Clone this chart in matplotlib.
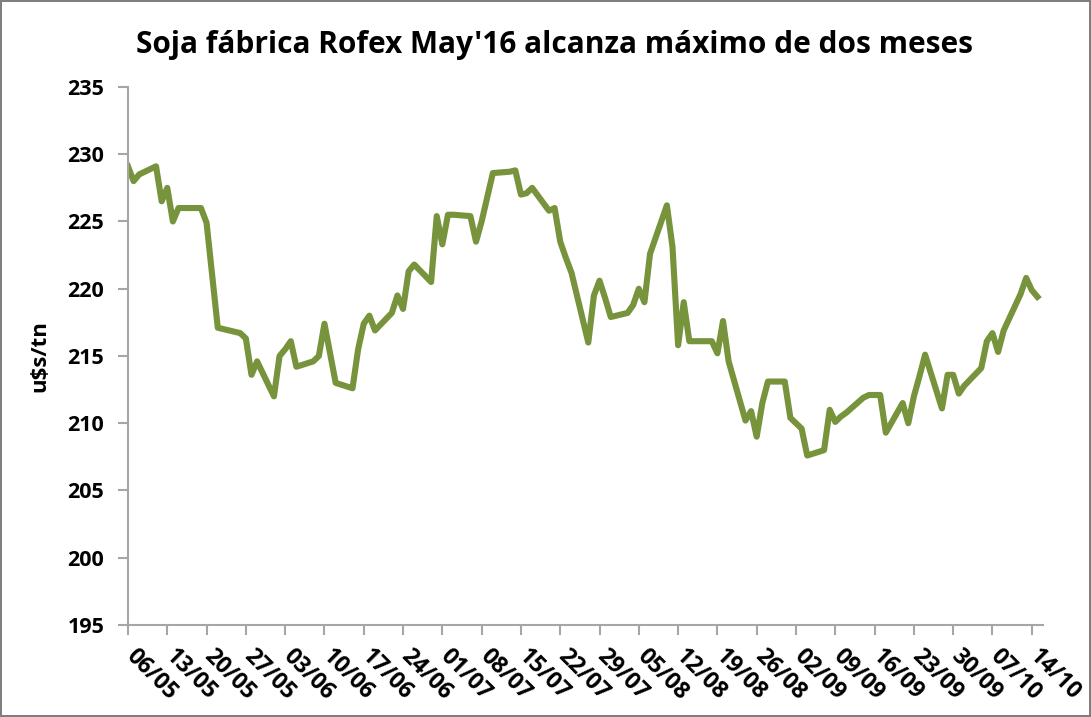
import matplotlib
matplotlib.use("Agg")
import matplotlib.pyplot as plt
import matplotlib.dates as mdates
import matplotlib.transforms as mtransforms
import pandas as pd

# Precio soja fábrica Rofex May'16 (u$s/tn), ruedas 2015
fechas = [
    "2015-05-06", "2015-05-07", "2015-05-08", "2015-05-11", "2015-05-12",
    "2015-05-13", "2015-05-14", "2015-05-15", "2015-05-18", "2015-05-19",
    "2015-05-20", "2015-05-21", "2015-05-22", "2015-05-26", "2015-05-27",
    "2015-05-28", "2015-05-29", "2015-06-01", "2015-06-02", "2015-06-03",
    "2015-06-04", "2015-06-05", "2015-06-08", "2015-06-09", "2015-06-10",
    "2015-06-11", "2015-06-12", "2015-06-15", "2015-06-16", "2015-06-17",
    "2015-06-18", "2015-06-19", "2015-06-22", "2015-06-23", "2015-06-24",
    "2015-06-25", "2015-06-26", "2015-06-29", "2015-06-30", "2015-07-01",
    "2015-07-02", "2015-07-03", "2015-07-06", "2015-07-07", "2015-07-08",
    "2015-07-09", "2015-07-10", "2015-07-13", "2015-07-14", "2015-07-15",
    "2015-07-16", "2015-07-17", "2015-07-20", "2015-07-21", "2015-07-22",
    "2015-07-23", "2015-07-24", "2015-07-27", "2015-07-28", "2015-07-29",
    "2015-07-30", "2015-07-31", "2015-08-03", "2015-08-04", "2015-08-05",
    "2015-08-06", "2015-08-07", "2015-08-10", "2015-08-11", "2015-08-12",
    "2015-08-13", "2015-08-14", "2015-08-18", "2015-08-19", "2015-08-20",
    "2015-08-21", "2015-08-24", "2015-08-25", "2015-08-26", "2015-08-27",
    "2015-08-28", "2015-08-31", "2015-09-01", "2015-09-02", "2015-09-03",
    "2015-09-04", "2015-09-07", "2015-09-08", "2015-09-09", "2015-09-10",
    "2015-09-11", "2015-09-14", "2015-09-15", "2015-09-16", "2015-09-17",
    "2015-09-18", "2015-09-21", "2015-09-22", "2015-09-23", "2015-09-24",
    "2015-09-25", "2015-09-28", "2015-09-29", "2015-09-30", "2015-10-01",
    "2015-10-02", "2015-10-05", "2015-10-06", "2015-10-07", "2015-10-08",
    "2015-10-09", "2015-10-12", "2015-10-13", "2015-10-14", "2015-10-15",
]
precios = [
    229.1, 228.0, 228.5, 229.1, 226.5,
    227.5, 225.0, 226.0, 226.0, 226.0,
    224.9, 221.0, 217.1, 216.7, 216.3,
    213.6, 214.6, 212.0, 215.0, 215.5,
    216.1, 214.2, 214.6, 215.0, 217.4,
    215.2, 213.0, 212.6, 215.5, 217.4,
    218.0, 216.9, 218.2, 219.5, 218.5,
    221.3, 221.8, 220.5, 225.4, 223.3,
    225.5, 225.5, 225.4, 223.5, 225.0,
    226.8, 228.6, 228.7, 228.8, 227.0,
    227.1, 227.5, 225.8, 226.0, 223.5,
    222.3, 221.2, 216.0, 219.5, 220.6,
    219.3, 217.9, 218.2, 218.8, 220.0,
    219.0, 222.6, 226.2, 223.1, 215.8,
    219.0, 216.1, 216.1, 215.2, 217.6,
    214.6, 210.2, 210.9, 209.0, 211.5,
    213.1, 213.1, 210.4, 210.0, 209.6,
    207.6, 208.0, 211.0, 210.1, 210.5,
    210.8, 211.9, 212.1, 212.1, 212.1,
    209.3, 211.5, 210.0, 212.0, 213.5,
    215.1, 211.1, 213.6, 213.6, 212.2,
    212.8, 214.1, 216.1, 216.7, 215.3,
    216.9, 219.6, 220.8, 219.9, 219.4,
]
titulo = "Soja fábrica Rofex May'16 alcanza máximo de dos meses"
eje_y = "u$s/tn"

x = pd.to_datetime(fechas)
plt.rcParams['font.family'] = ['Open Sans', 'DejaVu Sans']

fig = plt.figure(figsize=(10.91, 7.17), dpi=100)
fig.patch.set_edgecolor('#7f7f7f')
fig.patch.set_linewidth(1.5)
ax = fig.add_axes([0.1173, 0.1283, 0.8387, 0.7504])

ax.plot(x, precios, color='#77933C', linewidth=4.4, solid_joinstyle='round')

ax.set_ylim(195, 235)
ax.set_yticks(range(195, 236, 5))
ax.set_xlim(pd.Timestamp("2015-05-06"), pd.Timestamp("2015-10-16"))
ticks = pd.date_range("2015-05-06", "2015-10-14", freq="7D")
ax.set_xticks(ticks)
ax.xaxis.set_major_formatter(mdates.DateFormatter("%d/%m"))

for s in ['top', 'right']:
    ax.spines[s].set_visible(False)
for s in ['left', 'bottom']:
    ax.spines[s].set_color('#a6a6a6')
    ax.spines[s].set_linewidth(1.5)
ax.tick_params(axis='both', colors='#a6a6a6', width=1.5, length=7, labelcolor='black')
ax.tick_params(axis='y', labelsize=15.5, pad=10)
ax.tick_params(axis='x', labelsize=16.5, pad=7)
for lab in ax.get_yticklabels():
    lab.set_fontweight('bold')
desplaza = mtransforms.ScaledTranslation(7 / 72, 0, fig.dpi_scale_trans)
for lab in ax.get_xticklabels():
    lab.set_fontweight('bold')
    lab.set_rotation(-45)
    lab.set_ha('left')
    lab.set_va('top')
    lab.set_rotation_mode('anchor')
    lab.set_transform(lab.get_transform() + desplaza)

ax.set_ylabel(eje_y, fontsize=16, fontweight='bold', labelpad=12)
fig.text(0.508, 0.937, titulo, ha='center', va='center', fontsize=21.5, fontweight='bold')

fig.savefig("out.png", dpi=100)
